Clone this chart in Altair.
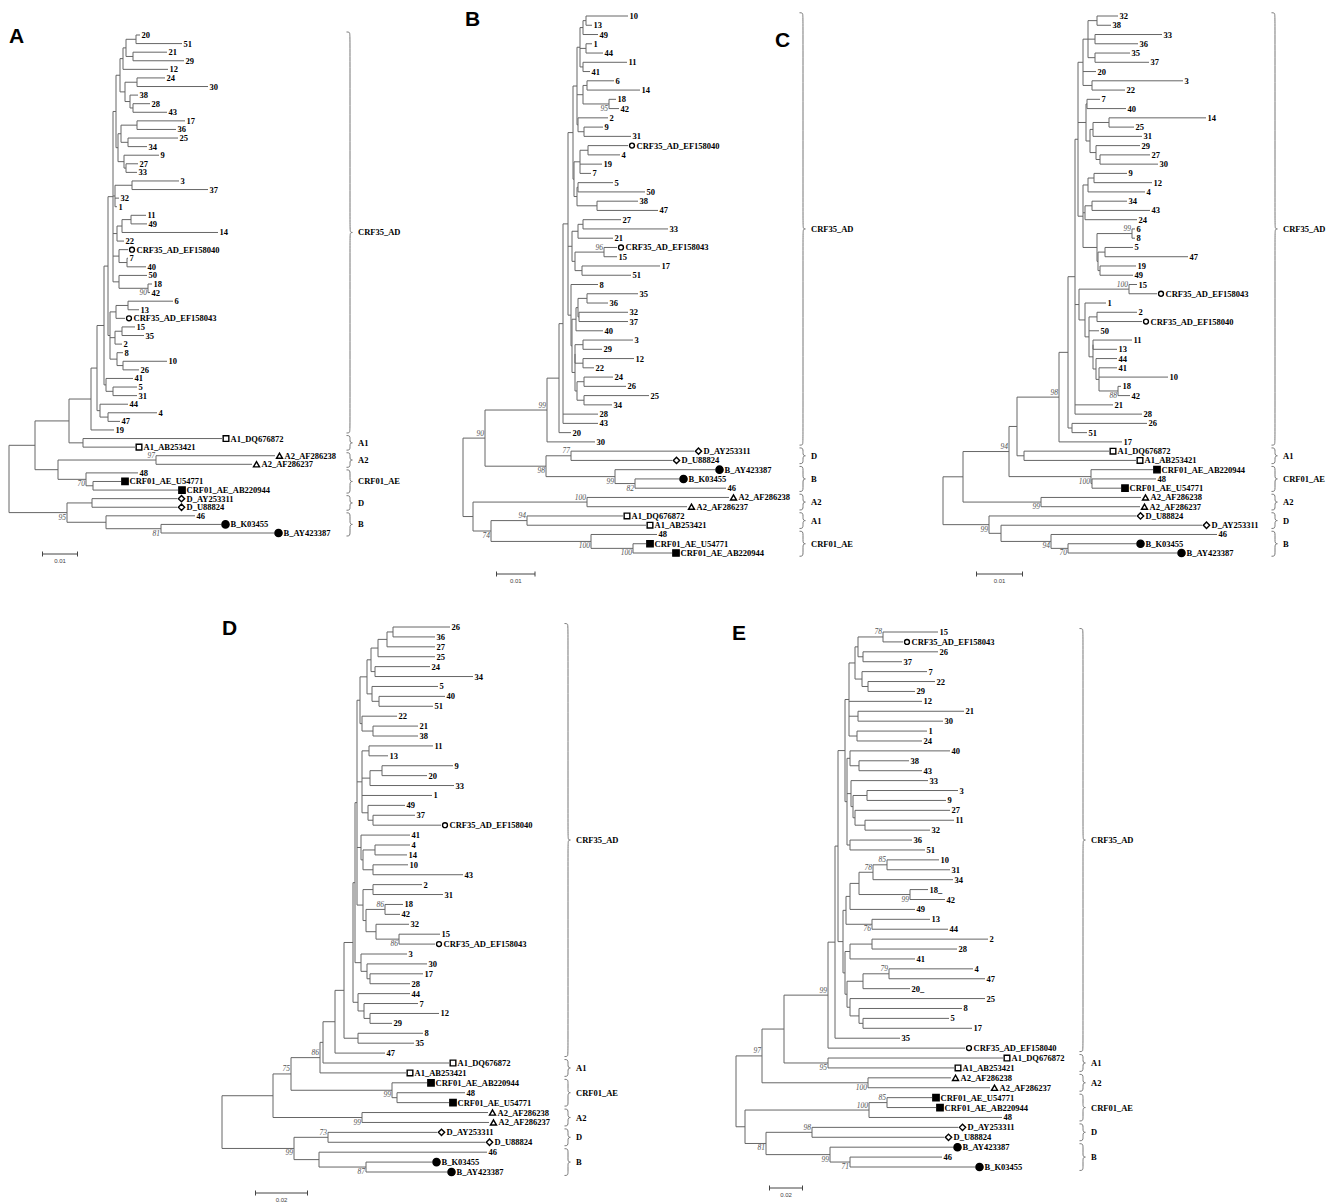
import re
import altair as alt
import pandas as pd

# ---------------------------------------------------------------------------
# DATA: five neighbour-joining trees written Newick-style.
# Every node is  name:depth  where depth is the node's horizontal position read
# off the reference figure (same length unit as that panel's scale bar);
# the root depth is subtracted and the scale bar converts it to
# substitutions/site.  Internal node names are bootstrap values with a flag:
# t = printed above the incoming branch, b = printed below it.
# ---------------------------------------------------------------------------

# ---- Panel A ----
A_T1A = "((((20:140,51:182):136,(21:167,29:184):133):126,12:168):123,((24:165,30:208):137,(38:138,(28:150,43:167):133):130):125):120"
A_T1B = "(((17:185,36:176):137,(25:178,34:147):128):121,(9:159,(27:138,33:137):126):124):118"
A_Z = ("((" + A_T1A + "," + A_T1B + "):116,((3:179,37:208):132,32:119,1:117):115,"
       "(((11:146,49:147):131,14:218):122,22:124):117,"
       "(CRF35_AD_EF158040:128,(7:128,40:146):127):119,"
       "(50:147,(18:152,42:150)90b:148):119):113")
A_T2 = "(((6:173,13:139):128,CRF35_AD_EF158043:125):116,((15:135,35:144):122,2:122):115,(8:123,(10:167,26:139):123):117):110"
A_CRF35 = ("((((" + A_Z + "," + A_T2 + "):108,(41:133,(5:137,31:137):113):106):104,"
           "(44:128,(4:157,47:120):108):100):97,19:114):91")
TREE_A = ("(((" + A_CRF35 + ",(A1_DQ676872:222,A1_AB253421:135):83):69,"
          "((A2_AF286238:275,A2_AF286237:252)97t:156,(48:138,(CRF01_AE_U54771:121,CRF01_AE_AB220944:178):93)70b:86):58):35,"
          "((D_AY253311:177,D_U88824:177):92,(46:195,(B_K03455:221,B_AY423387:274)81b:161):106)95b:67):9")

# ---- Panel B ----
B_TOP1 = "((((10:628,13:592):586,49:598):583,(1:592,44:603):586,(11:627,41:590):583):580,((6:614,14:640):587,(18:616,42:619)95b:609):583,(2:608,(9:603,31:631):584):578):577"
B_TOP2 = "(((CRF35_AD_EF158040:628,4:620):588,19:602,7:591):580,((5:613,50:645):578,(38:638,47:658):597):577):574"
B_TOP3 = "(((27:621,33:668):583,21:613):578,((CRF35_AD_EF158043:617,15:617)96t:604,(17:660,51:631):582):575):572"
B_LOW2 = "(((3:633,29:602):583,(12:634,22:594):583):575,((24:613,26:626):584,(25:649,34:612):584):577):575"
B_BOTTOM = "(8:598,((((35:638,36:608):587,(32:628,37:628):579):578,40:603):576," + B_LOW2 + "):572):571"
B_CRF35 = ("(((((" + B_TOP1 + "," + B_TOP2 + "):573," + B_TOP3 + "," + B_BOTTOM +
           "):568,28:598,43:598):563,20:571):559,30:595)99t:547")
TREE_B = ("((" + B_CRF35 + ",((D_AY253311:694,D_U88824:672)77t:571,(B_AY423387:715,(B_K03455:679,46:726)82b:635)99b:615)98b:546)90t:485,"
          "((A2_AF286238:729,A2_AF286237:687)100t:587,((A1_DQ676872:623,A1_AB253421:646)94t:527,"
          "(48:657,(CRF01_AE_U54771:646,CRF01_AE_AB220944:672)100b:633)100b:591)74b:491):473):463")

# ---- Panel C ----
C1 = "(((32:1118,38:1111):1097,(33:1162,36:1138):1095,(35:1130,37:1149):1095):1088,20:1096,(3:1183,22:1125):1092):1083"
C2 = "((7:1100,40:1126):1087,(((14:1206,25:1134):1109,31:1142):1093,(29:1140,(27:1150,30:1158):1100):1096):1090):1086"
C3 = "(((9:1127,12:1152):1094,4:1145):1088,((34:1127,43:1150):1092,24:1137):1085,((6:1135,8:1135)99t:1132,((5:1133,47:1188):1105,(19:1136,49:1133):1100):1098):1097):1083"
C4 = "((15:1137,CRF35_AD_EF158043:1157)100t:1129,(1:1106,((2:1137,CRF35_AD_EF158040:1142):1097,50:1099,((11:1132,13:1117):1093,(44:1117,(41:1117,10:1168,(18:1121,42:1130)88b:1118):1099):1096):1093):1089):1085):1079"
C_CRF35 = ("((((" + C1 + "," + C2 + "," + C3 + "):1078," + C4 +
           ",21:1113,28:1142):1075,(26:1147,51:1087):1072):1068,17:1122)98t:1059")
TREE_C = ("((((" + C_CRF35 + ",(A1_DQ676872:1109,A1_AB253421:1136):1024):1017,"
          "(CRF01_AE_AB220944:1153,(48:1156,CRF01_AE_U54771:1121):1092)100b:1091)94t:1009,"
          "(A2_AF286238:1141,A2_AF286237:1140)99b:1041):963,"
          "(D_U88824:1136,(D_AY253311:1202,(46:1217,(B_K03455:1136,B_AY423387:1177)70b:1068)94b:1051):1001)99b:989):943")

# ---- Panel D ----
D1 = "(((((26:450,36:435):393,27:435):387,25:435):378,(24:430,34:473):375):371,(5:438,(40:445,51:433):379):372):367"
D1B = "(22:397,(21:418,38:418):373):362"
D2 = "((11:433,13:388):369,((9:453,20:427):382,33:454):370,1:432,(49:405,(37:415,CRF35_AD_EF158040:441):373):368):362"
D3 = "(41:410,((4:410,14:407):375,(10:408,43:463):373):363):361"
D4 = "((2:422,31:443):373,((18:403,42:400)86t:385,(32:409,(15:440,CRF35_AD_EF158043:435)86b:399):376):366):363"
D5 = "(3:407,(30:427,(17:423,28:410):370):367):361"
D6 = "(44:410,(7:418,(12:439,29:392):370):364):358"
D_CRF35 = ("((((((" + D1 + "," + D1B + "):360," + D2 + "," + D3 + "," + D4 + "):357," + D5 +
           "):355," + D6 + "):353,(8:423,35:414):358):344,47:385):335")
TREE_D = ("(((((" + D_CRF35 + ",A1_DQ676872:449):323,A1_AB253421:406)86t:320,"
          "(CRF01_AE_AB220944:427,(48:465,CRF01_AE_U54771:449):397)99b:392)75t:291,"
          "(A2_AF286238:488,A2_AF286237:489)99b:362):273,"
          "((D_AY253311:437,D_U88824:485)73t:328,(46:487,(B_K03455:432,B_AY423387:447)87b:366):319)99b:294):222")

# ---- Panel E ----
E1 = "((((15:938,CRF35_AD_EF158043:903)78t:883,(26:938,37:902):863):858,(7:927,(22:935,29:915):868):862):855,12:922,(21:964,30:943):858,(1:927,24:922):857):849"
E2 = "((40:950,(38:909,43:922):859):850,(33:928,((3:958,9:946):867,(27:950,(11:954,32:930):865):855):853):851,(36:912,51:925):850):847"
E3 = "(((((10:939,31:950)85t:887,34:953)78t:873,(18_:928,42:945)99b:910):859,49:915):850,(13:930,44:948)76b:872):846"
E4 = "(((2:988,28:957):872,41:915):850,(((4:973,47:985)79t:889,20_:910):863,(25:985,(8:962,(5:949,17:972):863):859):850):847):845"
E_CRF35 = ("((((" + E1 + "," + E2 + "):845,(" + E3 + "," + E4 +
           "):843):838,35:900):835,CRF35_AD_EF158040:965)99t:828")
TREE_E = ("(((" + E_CRF35 + ",(A1_DQ676872:1003,A1_AB253421:954)95b:828):784,"
          "(A2_AF286238:951,A2_AF286237:990)100b:868)97t:762,"
          "(((CRF01_AE_U54771:932,CRF01_AE_AB220944:936)85t:887,48:1002)100t:869,"
          "((D_AY253311:958,D_U88824:944)98t:812,(B_AY423387:953,(46:942,B_K03455:975)71b:850)99b:830)81b:766):745):736")

# clade brackets: (label, first leaf, last leaf)
CLADES_A = [("CRF35_AD", "20", "19"), ("A1", "A1_DQ676872", "A1_AB253421"),
            ("A2", "A2_AF286238", "A2_AF286237"), ("CRF01_AE", "48", "CRF01_AE_AB220944"),
            ("D", "D_AY253311", "D_U88824"), ("B", "46", "B_AY423387")]
CLADES_B = [("CRF35_AD", "10", "30"), ("D", "D_AY253311", "D_U88824"),
            ("B", "B_AY423387", "46"), ("A2", "A2_AF286238", "A2_AF286237"),
            ("A1", "A1_DQ676872", "A1_AB253421"), ("CRF01_AE", "48", "CRF01_AE_AB220944")]
CLADES_C = [("CRF35_AD", "32", "17"), ("A1", "A1_DQ676872", "A1_AB253421"),
            ("CRF01_AE", "CRF01_AE_AB220944", "CRF01_AE_U54771"), ("A2", "A2_AF286238", "A2_AF286237"),
            ("D", "D_U88824", "D_AY253311"), ("B", "46", "B_AY423387")]
CLADES_D = [("CRF35_AD", "26", "47"), ("A1", "A1_DQ676872", "A1_AB253421"),
            ("CRF01_AE", "CRF01_AE_AB220944", "CRF01_AE_U54771"), ("A2", "A2_AF286238", "A2_AF286237"),
            ("D", "D_AY253311", "D_U88824"), ("B", "46", "B_AY423387")]
CLADES_E = [("CRF35_AD", "15", "CRF35_AD_EF158040"), ("A1", "A1_DQ676872", "A1_AB253421"),
            ("A2", "A2_AF286238", "A2_AF286237"), ("CRF01_AE", "CRF01_AE_U54771", "48"),
            ("D", "D_AY253311", "D_U88824"), ("B", "B_AY423387", "B_K03455")]

SCALE_BARS = {"A": (0.01, 35.0), "B": (0.01, 38.5), "C": (0.01, 46.0), "D": (0.02, 52.0), "E": (0.02, 33.0)}

# ---------------------------------------------------------------------------
# layout (page geometry of each panel, not data)
PANELS = [
    dict(name="A", tree=TREE_A, clades=CLADES_A, left=8, top=8, width=432, height=580,
         first_y=35, last_y=533, brace_px=350, letter=(1, 35)),
    dict(name="B", tree=TREE_B, clades=CLADES_B, left=440, top=8, width=330, height=580,
         first_y=16, last_y=553, brace_px=803, letter=(25, 18)),
    dict(name="C", tree=TREE_C, clades=CLADES_C, left=770, top=8, width=557, height=580,
         first_y=16, last_y=553, brace_px=1275, letter=(5, 39)),
    dict(name="D", tree=TREE_D, clades=CLADES_D, left=8, top=588, width=692, height=607,
         first_y=627, last_y=1172, brace_px=568, letter=(214, 47)),
    dict(name="E", tree=TREE_E, clades=CLADES_E, left=700, top=588, width=627, height=607,
         first_y=632, last_y=1167, brace_px=1083, letter=(32, 52)),
]

LINE = "#666666"
SERIF = "Liberation Serif"

TOKEN = re.compile(r"\s*([(),:]|[^(),:\s]+)")


def parse(s):
    toks = TOKEN.findall(s)
    pos = 0

    def node():
        nonlocal pos
        n = {"children": [], "name": "", "v": 0.0}
        if toks[pos] == "(":
            pos += 1
            while True:
                n["children"].append(node())
                if toks[pos] == ",":
                    pos += 1
                    continue
                pos += 1  # ')'
                break
        if pos < len(toks) and toks[pos] not in ("(", ")", ",", ":"):
            n["name"] = toks[pos]
            pos += 1
        if pos < len(toks) and toks[pos] == ":":
            pos += 1
            n["v"] = float(toks[pos])
            pos += 1
        return n

    return node()


def layout(root):
    leaves, segs, sups = [], [], []

    def walk(n, parent_v):
        if not n["children"]:
            n["y"] = float(len(leaves))
            leaves.append(n)
        else:
            for c in n["children"]:
                walk(c, n["v"])
            y0, y1 = n["children"][0]["y"], n["children"][-1]["y"]
            n["y"] = (y0 + y1) / 2
            segs.append((n["v"], n["v"], y0, y1))
            if n["name"]:
                sups.append((n["v"], n["y"], n["name"][:-1], n["name"][-1]))
        if parent_v is not None:
            segs.append((parent_v, n["v"], n["y"], n["y"]))

    walk(root, None)
    return leaves, segs, sups


def symbol_of(name):
    if name.startswith("CRF35_AD"):
        return ("circle", "open", 24, 4.0)
    if name.startswith("CRF01_AE"):
        return ("square", "solid", 40, 4.0)
    if name.startswith("A1_"):
        return ("square", "open", 32, 4.0)
    if name.startswith("A2_"):
        return ("triangle-up", "open", 36, 4.5)
    if name.startswith("D_"):
        return ("diamond", "open", 40, 4.5)
    if name.startswith("B_"):
        return ("circle", "solid", 52, 4.5)
    return None


def build(p):
    root = parse(p["tree"])
    leaves, segs, sups = layout(root)
    bar, bar_px = SCALE_BARS[p["name"]]
    ppu = bar_px / bar
    r = root["v"]
    n = len(leaves)
    s = (p["last_y"] - p["first_y"]) / (n - 1)

    def ux(v):
        return (v - r) / ppu

    def px(d):
        return d / ppu

    xdom = [ux(p["left"]), ux(p["left"] + p["width"])]
    ydom = [(p["top"] - p["first_y"]) / s, (p["top"] + p["height"] - p["first_y"]) / s]

    def X(f):
        return alt.X(f, type="quantitative", axis=None,
                     scale=alt.Scale(domain=xdom, nice=False, zero=False))

    def Y(f):
        return alt.Y(f, type="quantitative", axis=None,
                     scale=alt.Scale(domain=ydom, nice=False, zero=False, reverse=True))

    seg_df = pd.DataFrame([dict(x=ux(a), x2=ux(b), y=y0, y2=y1) for a, b, y0, y1 in segs])

    lab_rows, sym_rows = [], []
    for lf in leaves:
        tip = ux(lf["v"])
        sym = symbol_of(lf["name"])
        if sym:
            shape, fill, size, off = sym
            sym_rows.append(dict(x=tip + px(off), y=lf["y"], shape=shape, fill=fill, size=size))
            lab_rows.append(dict(x=tip + px(2 * off + 0.5), y=lf["y"], text=lf["name"]))
        else:
            lab_rows.append(dict(x=tip + px(1.5), y=lf["y"], text=lf["name"]))
    lab_df = pd.DataFrame(lab_rows)
    sym_df = pd.DataFrame(sym_rows)

    sup_t = pd.DataFrame([dict(x=ux(v) - px(1), y=y, text=t) for v, y, t, f in sups if f == "t"])
    sup_b = pd.DataFrame([dict(x=ux(v) - px(1), y=y, text=t) for v, y, t, f in sups if f == "b"])

    idx = {lf["name"]: lf["y"] for lf in leaves}
    brace_rows, clade_rows = [], []
    bx = p["brace_px"]
    for ci, (lab, a, b) in enumerate(p["clades"]):
        yt = (idx[a] - 0.35) * s
        yb = (idx[b] + 0.35) * s
        ym = (yt + yb) / 2
        h = min(4.0, (yb - yt) / 4)
        pts = [(-3.5, yt), (0, yt), (0, yt + h), (0, ym - h), (0, ym), (3.5, ym), (0, ym),
               (0, ym + h), (0, yb - h), (0, yb), (-3.5, yb)]
        for k, (dx, yy) in enumerate(pts):
            brace_rows.append(dict(x=ux(bx + dx), y=yy / s, id=ci, k=k))
        clade_rows.append(dict(x=ux(bx + 8), y=ym / s, text=lab))
    brace_df = pd.DataFrame(brace_rows)
    clade_df = pd.DataFrame(clade_rows)

    by = (n - 1) + 21 / s
    b0 = px(33.5)
    b1 = b0 + bar
    tk = 2.5 / s
    bar_df = pd.DataFrame([dict(x=b0, x2=b1, y=by, y2=by),
                           dict(x=b0, x2=b0, y=by - tk, y2=by + tk),
                           dict(x=b1, x2=b1, y=by - tk, y2=by + tk)])
    barlab_df = pd.DataFrame([dict(x=(b0 + b1) / 2, y=by + 3.5 / s, text=f"{bar:.2f}")])
    letter_df = pd.DataFrame([dict(text=p["name"])])

    layers = [
        alt.Chart(seg_df).mark_rule(color=LINE, strokeWidth=1).encode(
            x=X("x"), x2=alt.X2("x2"), y=Y("y"), y2=alt.Y2("y2")),
        alt.Chart(brace_df).mark_line(color="#777777", strokeWidth=1, interpolate="basis").encode(
            x=X("x"), y=Y("y"), detail="id:N", order="k:Q"),
        alt.Chart(sym_df).mark_point(filled=True, stroke="black", strokeWidth=1.4, opacity=1).encode(
            x=X("x"), y=Y("y"),
            shape=alt.Shape("shape:N", legend=None,
                            scale=alt.Scale(domain=["circle", "square", "triangle-up", "diamond"],
                                            range=["circle", "square", "triangle-up", "diamond"])),
            fill=alt.Fill("fill:N", legend=None,
                          scale=alt.Scale(domain=["open", "solid"], range=["white", "black"])),
            size=alt.Size("size:Q", scale=None, legend=None)),
        alt.Chart(lab_df).mark_text(align="left", baseline="middle", font=SERIF, fontWeight="bold",
                                    fontSize=8.5, color="black").encode(
            x=X("x"), y=Y("y"), text="text:N"),
        alt.Chart(sup_t).mark_text(align="right", baseline="bottom", font=SERIF, fontStyle="italic",
                                   fontSize=7.5, color="#555555", dy=-0.5).encode(
            x=X("x"), y=Y("y"), text="text:N"),
        alt.Chart(sup_b).mark_text(align="right", baseline="top", font=SERIF, fontStyle="italic",
                                   fontSize=7.5, color="#555555", dy=1).encode(
            x=X("x"), y=Y("y"), text="text:N"),
        alt.Chart(clade_df).mark_text(align="left", baseline="middle", font=SERIF, fontWeight="bold",
                                      fontSize=8.5, color="black").encode(
            x=X("x"), y=Y("y"), text="text:N"),
        alt.Chart(bar_df).mark_rule(color="#444444", strokeWidth=1).encode(
            x=X("x"), x2=alt.X2("x2"), y=Y("y"), y2=alt.Y2("y2")),
        alt.Chart(barlab_df).mark_text(align="center", baseline="top", font="Liberation Sans",
                                       fontSize=6, color="#444444").encode(
            x=X("x"), y=Y("y"), text="text:N"),
        alt.Chart(letter_df).mark_text(align="left", baseline="alphabetic", font="Liberation Sans",
                                       fontWeight="bold", fontSize=21, color="black").encode(
            x=alt.value(p["letter"][0]), y=alt.value(p["letter"][1]), text="text:N"),
    ]
    return alt.layer(*layers).properties(width=p["width"], height=p["height"])


charts = [build(p) for p in PANELS]
row1 = alt.hconcat(charts[0], charts[1], charts[2], spacing=0, bounds="flush")
row2 = alt.hconcat(charts[3], charts[4], spacing=0, bounds="flush")
chart = (alt.vconcat(row1, row2, spacing=0)
         .properties(padding=0)
         .configure_view(stroke=None))

chart.save("out.html", embed_options={"renderer": "svg", "actions": False})
